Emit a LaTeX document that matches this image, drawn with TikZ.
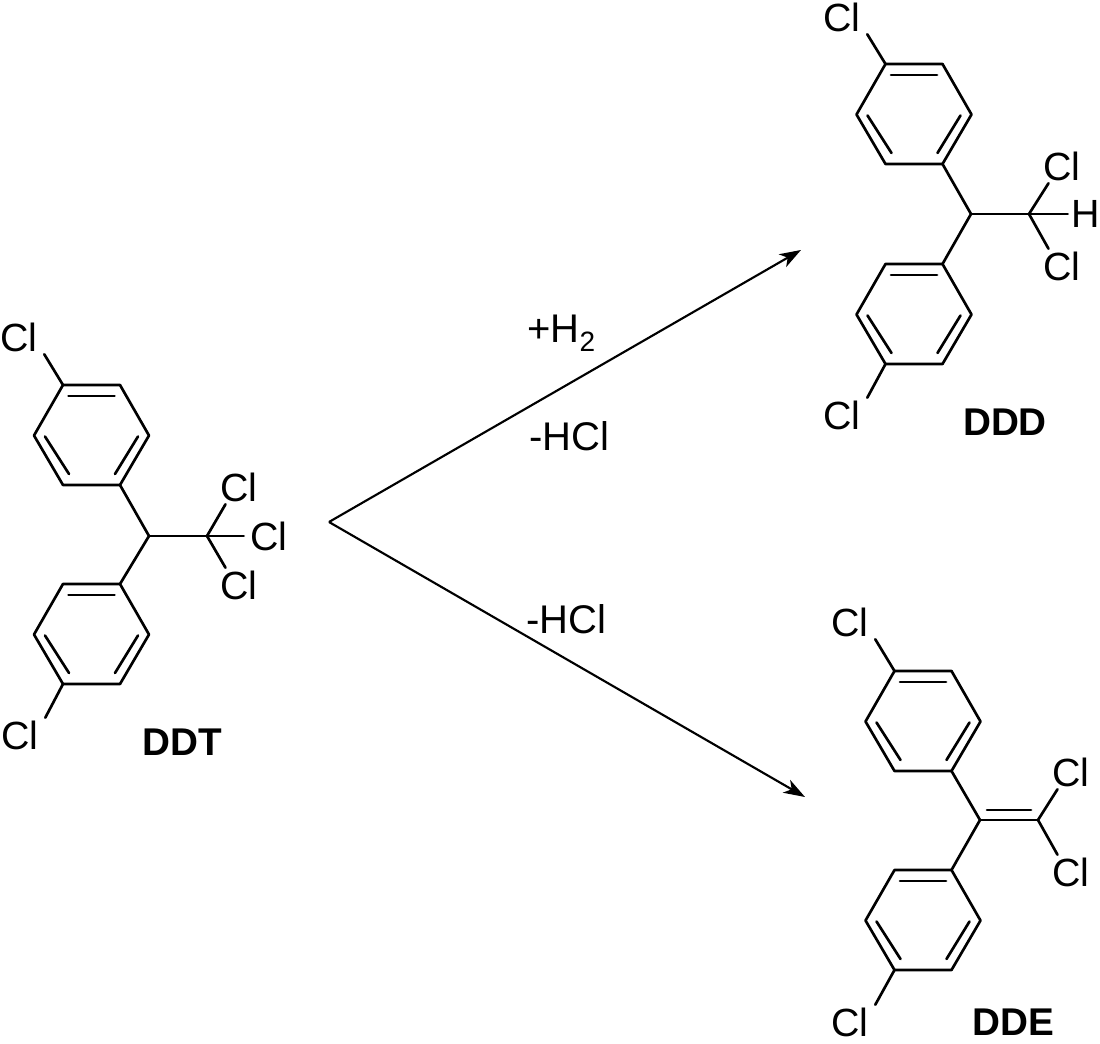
\documentclass[tikz,border=0pt]{standalone}
\usepackage{fontspec}
\setmainfont{Liberation Sans}
\usetikzlibrary{arrows.meta}
\tikzset{
    bond/.style={
        draw=black,
        line width=2pt,
        line cap=round,
        line join=round,
    },
    reaction/.style={
        draw=black,
        line width=1.6pt,
        -{Stealth[length=16pt,width=11pt,inset=4.5pt]},
    },
    atom/.style={
        rectangle,
        inner sep=0pt,
        minimum width=37.5pt,
        minimum height=25.5pt,
        font=\fontsize{29.5}{32}\selectfont,
        text=black,
    },
    hatom/.style={
        atom,
        minimum width=27pt,
    },
    compound/.style={
        inner sep=0pt,
        font=\fontsize{29}{32}\selectfont\bfseries,
        text=black,
    },
    agent/.style={
        inner sep=0pt,
        font=\fontsize{30}{32}\selectfont,
        text=black,
    },
    ring/.pic={
        \coordinate (-a) at (-28.5,-50);
        \coordinate (-b) at (28.5,-50);
        \coordinate (-c) at (57.5,0.5);
        \coordinate (-d) at (28.5,50);
        \coordinate (-e) at (-28.5,50);
        \coordinate (-f) at (-57.5,0.5);
        \draw[bond] (-a) -- (-b) -- (-c) -- (-d) -- (-e) -- (-f) -- cycle;
        \draw[bond] (-23,-39) -- (23,-39);
        \draw[bond] (-46.5,1.5) -- (-22.5,39);
        \draw[bond] (46.5,1.5) -- (23.5,39);
    },
}
\begin{document}
\begin{tikzpicture}[x=0.75pt,y=-0.75pt]
    \useasboundingbox (0,0) rectangle (1100,1044);

    % DDT
    \pic (T1) at (91.5,435) {ring};
    \pic (T2) at (91.5,634) {ring};
    \coordinate (TC) at (149,536);
    \coordinate (TD) at (207,536);
    \node [atom] (TCl1) at (19,337) {Cl};
    \node [atom] (TCl2) at (20,735) {Cl};
    \node [atom] (TCl3) at (239,487) {Cl};
    \node [atom] (TCl4) at (269,536) {Cl};
    \node [atom] (TCl5) at (239,585) {Cl};
    \node [compound] (DDT) at (182,742) {DDT};
    \draw[bond] (T1-a) -- (TCl1.south east);
    \draw[bond] (T2-e) -- (TCl2.north east);
    \draw[bond] (T1-d) -- (TC) -- (T2-b);
    \draw[bond] (TC) -- (TD);
    \draw[bond] (TD) -- (TCl3.232);
    \draw[bond] (TD) -- (TCl4.west);
    \draw[bond] (TD) -- (TCl5.128);

    % DDD
    \pic (D1) at (914,114) {ring};
    \pic (D2) at (914,314) {ring};
    \coordinate (DC) at (971,214);
    \coordinate (DD) at (1029,214);
    \node [atom] (DCl1) at (842,17) {Cl};
    \node [atom] (DCl2) at (842,415) {Cl};
    \node [atom] (DCl3) at (1062,166) {Cl};
    \node [hatom] (DH) at (1086,214) {H};
    \node [atom] (DCl4) at (1062,266) {Cl};
    \node [compound] (DDD) at (1005,422) {DDD};
    \draw[bond] (D1-a) -- (DCl1.south east);
    \draw[bond] (D2-e) -- (DCl2.north east);
    \draw[bond] (D1-d) -- (DC) -- (D2-b);
    \draw[bond] (DC) -- (DD);
    \draw[bond] (DD) -- (DCl3.232);
    \draw[bond] (DD) -- (DH.west);
    \draw[bond] (DD) -- (DCl4.128);

    % DDE
    \pic (E1) at (923,721) {ring};
    \pic (E2) at (923,920) {ring};
    \coordinate (EC) at (980,820);
    \coordinate (ED) at (1038,820);
    \node [atom] (ECl1) at (850,622) {Cl};
    \node [atom] (ECl2) at (850,1022) {Cl};
    \node [atom] (ECl3) at (1071,772) {Cl};
    \node [atom] (ECl4) at (1071,872) {Cl};
    \node [compound] (DDE) at (1013,1022) {DDE};
    \draw[bond] (E1-a) -- (ECl1.south east);
    \draw[bond] (E2-e) -- (ECl2.north east);
    \draw[bond] (E1-d) -- (EC) -- (E2-b);
    \draw[bond] (EC) -- (ED);
    \draw[bond] (987,810) -- (1031,810);
    \draw[bond] (ED) -- (ECl3.232);
    \draw[bond] (ED) -- (ECl4.128);

    % reactions
    \coordinate (fork) at (329,522);
    \coordinate (toDDD) at (801,250);
    \coordinate (toDDE) at (805,797);
    \draw[reaction] (fork) -- (toDDD);
    \draw[reaction] (fork) -- (toDDE);
    \node [agent,anchor=base west] (plusH) at (527,343) {+H\textsubscript{2}};
    \node [agent] (minusHCl1) at (569,436) {-HCl};
    \node [agent] (minusHCl2) at (566,619) {-HCl};
\end{tikzpicture}
\end{document}
